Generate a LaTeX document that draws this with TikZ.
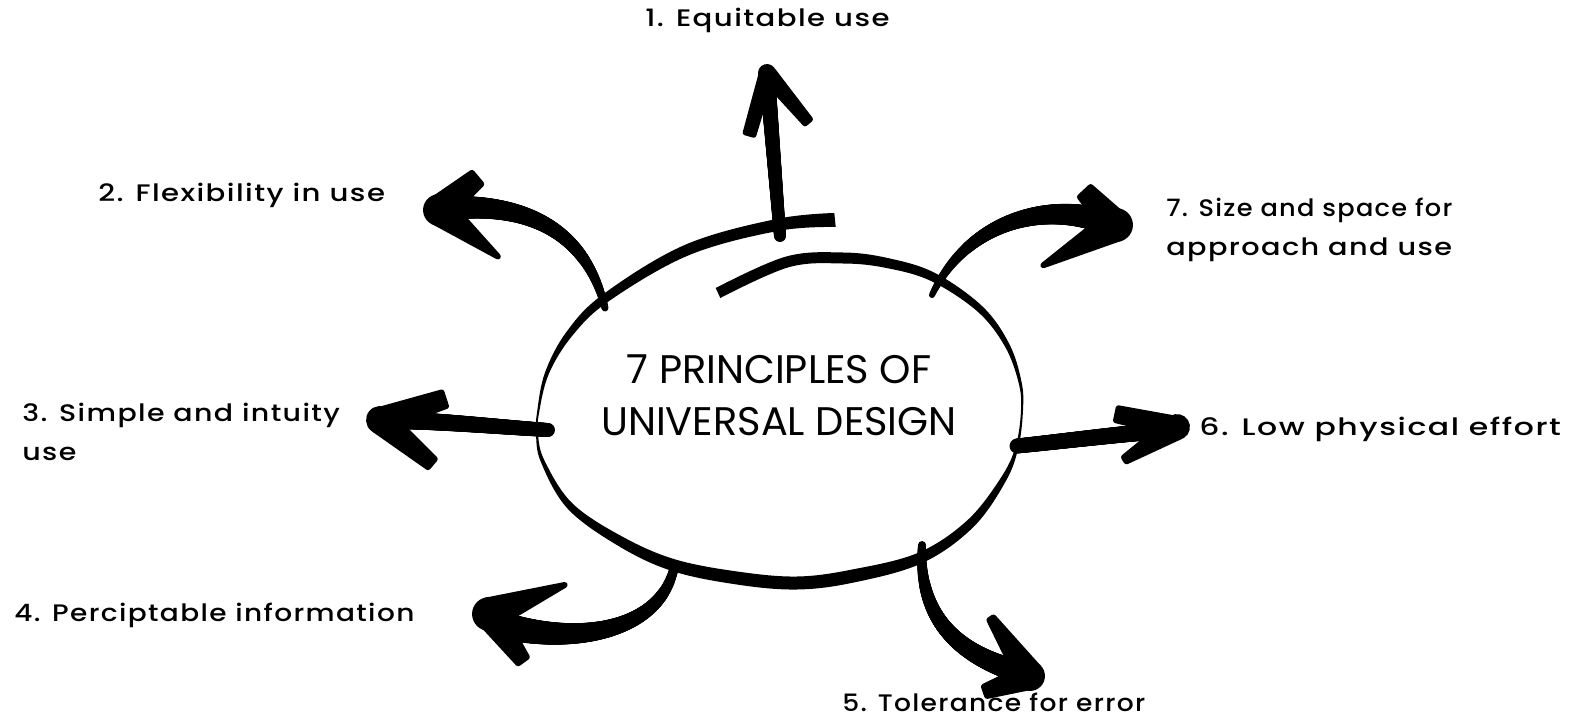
\documentclass[tikz,border=0pt]{standalone}
\usepackage{fontspec}
\setmainfont{Poppins}
\newfontfamily\lblfont{Poppins Medium}[FakeStretch=1.22, LetterSpace=6]
\newfontfamily\ttlfont{Poppins}
\usetikzlibrary{decorations.markings}
\tikzset{
  brush/.style 2 args={
    decoration={markings,
      mark=between positions 0 and 1 step 0.004 with {
        \pgfmathsetmacro\brushr{0.2835*(#1+(#2-#1)*\pgfkeysvalueof{/pgf/decoration/mark info/distance from start}/\pgfdecoratedpathlength)}
        \fill (0,0) circle[radius=\brushr pt];
      }},
    decorate},
  lbl/.style={font=\lblfont\fontsize{13.6}{22}\selectfont, inner sep=0pt, align=left, transform shape},
  ttl/.style={font=\ttlfont\fontsize{22.7}{29.5}\selectfont, inner sep=0pt, align=center},
}
% barb: tip coordinate, visual angle, length, width at tip, width at end
\newcommand\barb[5]{%
  \begin{scope}[shift={(#1)},rotate=#2]
    \fill[rounded corners=1.5pt] (0,-#4/2) -- (#3,-#5/2) -- (#3,#5/2) -- (0,#4/2) -- cycle;
    \fill (0,0) circle[radius=#4*0.2835pt];
  \end{scope}}
\begin{document}
\begin{tikzpicture}[x=0.02cm,y=-0.02cm]
\useasboundingbox (0,0) rectangle (1580,723);

% hand-drawn ellipse (one spiral brush stroke)
\fill plot[smooth, tension=0.6] coordinates {(715.7,288) (785.5,256.7) (843,252.5) (888.1,258.1) (935,273) (982.4,306.4) (1009.2,343.8) (1021.5,381.7) (1023,410) (1018.4,447.4) (1005.6,481.5) (973.1,527.3) (922.1,563.1) (854.3,582.4) (797,589.5) (736.1,584.4) (671.2,570.7) (617.5,545.4) (567.5,508.5) (541.2,462.8) (536,435.1) (537,412.8) (545.1,372.3) (567.2,330.9) (604.3,293.4) (684.9,244.9) (775.8,219.1) (834.3,213)}
  -- plot[smooth, tension=0.6] coordinates {(835.7,227) (778.2,230.9) (689.1,255.1) (609.7,300.6) (572.8,335.1) (548.9,373.7) (539,413.2) (538,434.9) (544.8,461.2) (572.5,503.5) (622.5,536.7) (674.8,559.3) (737.9,571.6) (797,576.5) (851.7,569.6) (917.9,552.9) (966.9,520.7) (1000.4,478.5) (1015.6,446.6) (1021,410) (1018.5,382.3) (1004.8,346.2) (977.6,311.6) (931,281) (885.9,267.9) (843,263.5) (788.5,267.3) (720.3,298)}
  -- cycle;

\node[ttl] (title) at (779,395) {7 PRINCIPLES OF\\UNIVERSAL DESIGN};

% arrow 1
\coordinate (b1) at (780,236);
\coordinate (t1) at (767,73);
\path[brush={12}{16}] (b1) -- (t1);
\barb{t1}{-106}{66}{16}{14}
\barb{t1}{-50}{66}{18}{12}

% arrow 2
\coordinate (b2) at (605,308);
\coordinate (e2) at (450,208);
\coordinate (t2) at (439,210);
\path[brush={7}{24}] (b2) .. controls (590,246) and (545,202) .. (e2);
\barb{t2}{40}{52}{30}{20}
\barb{t2}{-38.3}{78}{32}{5}

% arrow 3
\coordinate (b3) at (548,430);
\coordinate (e3) at (390,420);
\coordinate (t3) at (380,420);
\path[brush={14}{18}] (b3) .. controls (500,427) and (440,421) .. (e3);
\barb{t3}{18}{70}{26}{20}
\barb{t3}{-40}{70}{28}{16}

% arrow 4
\coordinate (b4) at (674,568);
\coordinate (e4) at (505,626);
\coordinate (t4) at (489,614);
\path[brush={9}{27}] (b4) .. controls (660,630) and (580,645) .. (e4);
\barb{t4}{21}{84}{34}{5}
\barb{t4}{-54}{60}{30}{16}

% arrow 5
\coordinate (b5) at (922,545);
\coordinate (e5) at (1020,672);
\coordinate (t5) at (1030,676);
\path[brush={8}{23}] (b5) .. controls (918,620) and (960,655) .. (e5);
\barb{t5}{124}{72}{30}{10}
\barb{t5}{199}{50}{28}{15}

% arrow 6
\coordinate (b6) at (1017,446);
\coordinate (e6) at (1170,430);
\coordinate (t6) at (1177,427);
\path[brush={15}{17}] (b6) .. controls (1065,441) and (1120,434) .. (e6);
\barb{t6}{168}{64}{22}{18}
\barb{t6}{212}{64}{26}{10}

% arrow 7
\coordinate (b7) at (932,295);
\coordinate (e7) at (1106,222);
\coordinate (t7) at (1116,225);
\path[brush={6}{25}] (b7) .. controls (965,225) and (1040,200) .. (e7);
\barb{t7}{133}{48}{30}{20}
\barb{t7}{209}{86}{34}{5}

% labels
\node[lbl, anchor=base west] (l1) at (645,27) {1. Equitable use};
\node[lbl, anchor=base west] (l2) at (98,201) {2. Flexibility in use};
\node[lbl, anchor=west, xscale=0.975] (l3) at (22,432) {3. Simple and intuity\\use};
\node[lbl, anchor=base west, xscale=0.96] (l4) at (14,621) {4. Perciptable information};
\node[lbl, anchor=base west, xscale=0.91] (l5) at (842,711) {5. Tolerance for error};
\node[lbl, anchor=base west, xscale=1.08] (l6) at (1199,435) {6. Low physical effort};
\node[lbl, anchor=west, xscale=0.88] (l7) at (1166,230) {7. Size and space for\\\scalebox{1.12}[1]{approach and use}};
\end{tikzpicture}
\end{document}
